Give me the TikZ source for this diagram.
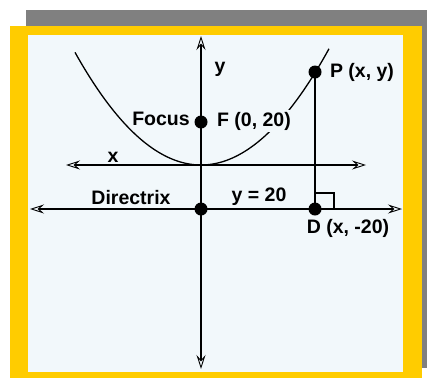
\documentclass[tikz,border=0pt]{standalone}
\usepackage{fontspec}
\setmainfont{Liberation Sans}
\usetikzlibrary{arrows.meta}
\definecolor{gold}{HTML}{FFCC00}
\definecolor{shadowgray}{HTML}{808080}
\definecolor{panel}{HTML}{F2F8FB}
\tikzset{
  axis/.style={line width=1.6pt, {Stealth[open,length=14pt,width=9pt,inset=5pt,line width=0.9pt]}-{Stealth[open,length=14pt,width=9pt,inset=5pt,line width=0.9pt]}},
  dot/.style={circle, fill=black, inner sep=0pt, minimum size=13pt},
  lbl/.style={font=\bfseries\fontsize{19.5}{22}\selectfont, inner sep=1.5pt},
  lblbg/.style={lbl, fill=panel}
}
\begin{document}
\begin{tikzpicture}[x=1pt,y=-1pt]
\useasboundingbox (0,0) rectangle (427,378);
% frame
\fill[shadowgray] (26,10) rectangle (427,368);
\fill[gold] (10,26) rectangle (422,378);
\fill[panel] (28,35) rectangle (403,372);
% parabola
\draw[line width=1.3pt, domain=75:329, samples=80] plot (\x, {165-0.0071*(\x-201)*(\x-201)});
% axes coordinates
\coordinate (ytop) at (201,36);
\coordinate (ybot) at (201,369);
\coordinate (xl) at (66,165);
\coordinate (xr) at (366,165);
\coordinate (dl) at (30,209);
\coordinate (dr) at (402,209);
\draw[axis] (ybot) -- (ytop);
\draw[axis] (xl) -- (xr);
\draw[axis] (dl) -- (dr);
% points
\node[dot] (F) at (201,122) {};
\node[dot] (V) at (201,209) {};
\node[dot] (P) at (315,72) {};
\node[dot] (D) at (315,209) {};
\draw[line width=1.6pt] (P.center) -- (D.center);
% right angle
\coordinate (ra1) at (315,193);
\coordinate (ra2) at (334,209);
\draw[line width=1.3pt] (ra1) -| (ra2);
% labels
\node[lbl] (ly) at (220,69) {y};
\node[lbl] (lx) at (113,157) {x};
\node[lbl] (lfocus) at (161,119) {Focus};
\node[lblbg] (lF) at (254,121) {F (0, 20)};
\node[lbl] (lP) at (362,72) {P (x, y)};
\node[lbl] (ldir) at (131,198) {Directrix};
\node[lbl] (ly20) at (259,197) {y = 20};
\node[lbl] (lD) at (348,228) {D (x, -20)};
\end{tikzpicture}
\end{document}
